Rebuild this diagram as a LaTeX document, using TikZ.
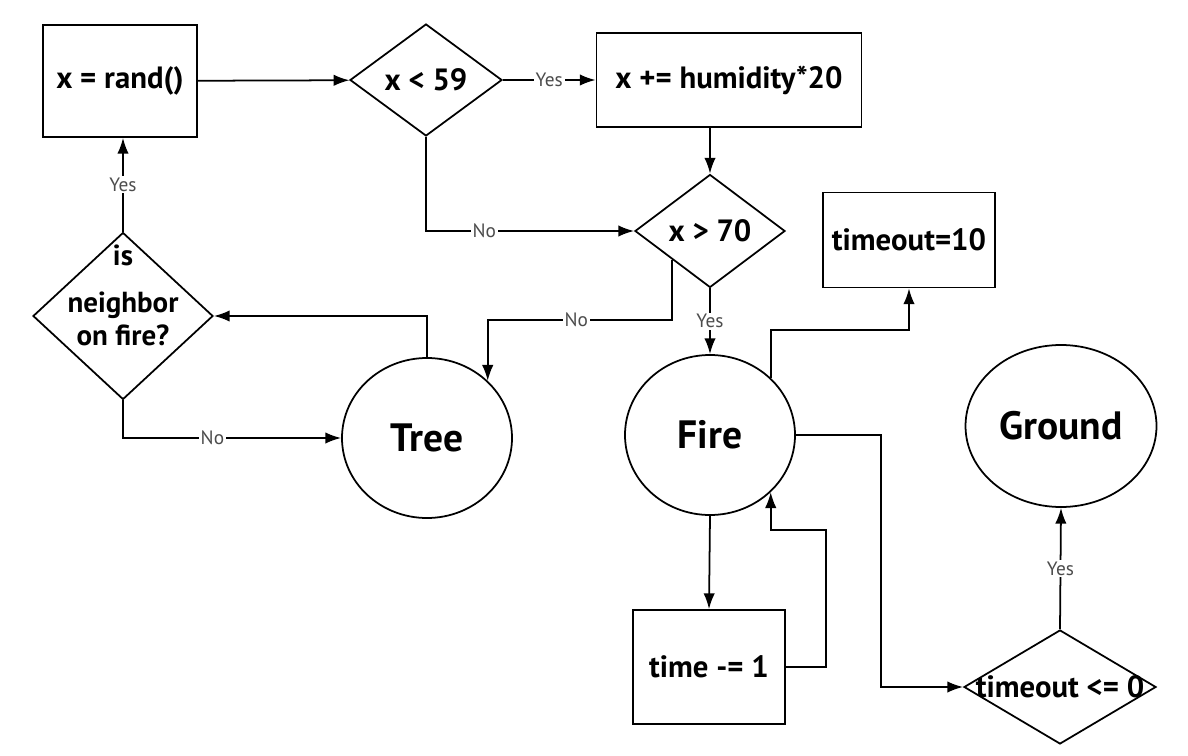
\documentclass[tikz,border=0pt]{standalone}
\usepackage{fontspec}
\setmainfont{PT Sans}
\usetikzlibrary{shapes.geometric,arrows.meta,calc}
\newcommand\nowidth[1]{\makebox[0pt]{#1}}
\tikzset{
  procbox/.style 2 args={draw, rectangle, line width=1pt,
    minimum width=#1, minimum height=#2,
    font=\fontsize{17.5}{20}\selectfont\bfseries},
  decision/.style 2 args={draw, diamond, line width=1pt, inner sep=0pt,
    minimum width=#1, minimum height=#2,
    font=\fontsize{17.5}{19.5}\selectfont\bfseries},
  stateball/.style 2 args={draw, ellipse, line width=1pt,
    minimum width=#1, minimum height=#2,
    font=\fontsize{22.5}{26}\selectfont\bfseries},
  flow/.style={line width=1pt, -{Latex[length=9pt,width=6.5pt]}},
  edgelabel/.style={fill=white, inner sep=1pt, text=black!70,
    font=\fontsize{11}{13}\selectfont}
}

\begin{document}
\begin{tikzpicture}[x=0.2mm,y=-0.2mm]
  \useasboundingbox (0,0) rectangle (1188,756);

  % boxes
  \node[procbox={30.8mm}{22.4mm}] (rand) at (120,81) {x = rand()};
  \node[procbox={53mm}{18.8mm}] (humid) at (729,80) {x += humidity*20};
  \node[procbox={34.4mm}{19mm}] (tten) at (909,240) {timeout=10};
  \node[procbox={30.4mm}{22.8mm}] (tdec) at (709,667) {time -= 1};

  % decisions
  \node[decision={30.4mm}{22.4mm}] (lt) at (426,80) {\nowidth{x < 59}};
  \node[decision={30mm}{22.6mm}] (gt) at (710,231) {\nowidth{x > 70}};
  \node[decision={36mm}{33.4mm}, font=\fontsize{16.5}{19}\selectfont\bfseries]
    (nbr) at (123,316)
    {\nowidth{\smash{\raisebox{1.9mm}{\begin{tabular}{@{}c@{}}is\\[2.8mm]neighbor\\on fire?\end{tabular}}}}};
  \node[decision={38.4mm}{22.8mm}] (tz) at (1060,687) {\nowidth{timeout <= 0}};

  % states
  \node[stateball={34mm}{32mm}] (tree) at (427,438) {Tree};
  \node[stateball={34mm}{32mm}] (fire) at (710,435) {Fire};
  \node[stateball={33.6mm}{32.4mm}] (ground) at (1061,426) {Ground};

  \coordinate (nolvl) at (0,320);

  % connectors
  \draw[flow] (rand) -- (lt);
  \draw[flow] (lt) -- node[edgelabel]{Yes} (humid);
  \draw[flow] (gt.north |- humid.south) -- (gt.north);
  \draw[flow] (lt.south) |- node[edgelabel,pos=0.64]{No} (gt.west);
  \draw[flow] (gt.south west) |- node[edgelabel,pos=0.76]{No}
    (tree.north east |- nolvl) -- (tree.north east);
  \draw[flow] (gt.south) -- node[edgelabel]{Yes} (fire.north);
  \draw[flow] (fire.north east) -- ++(0,-48) -| (tten.south);
  \draw[flow] (fire.east) -- ++(85,0) |- (tz.west);
  \draw[flow] (fire.south) -- (tdec.north);
  \draw[flow] (tdec.east) -- ++(40,0) |- ($(fire.south east)+(0,38)$)
    -- (fire.south east);
  \draw[flow] (tz.north) -- node[edgelabel]{Yes} (ground.south);
  \draw[flow] (nbr.north) -- node[edgelabel]{Yes} (nbr.north |- rand.south);
  \draw[flow] (tree.north) |- (nbr.east);
  \draw[flow] (nbr.south) |- node[edgelabel,pos=0.705]{No} (tree.west);
\end{tikzpicture}
\end{document}
